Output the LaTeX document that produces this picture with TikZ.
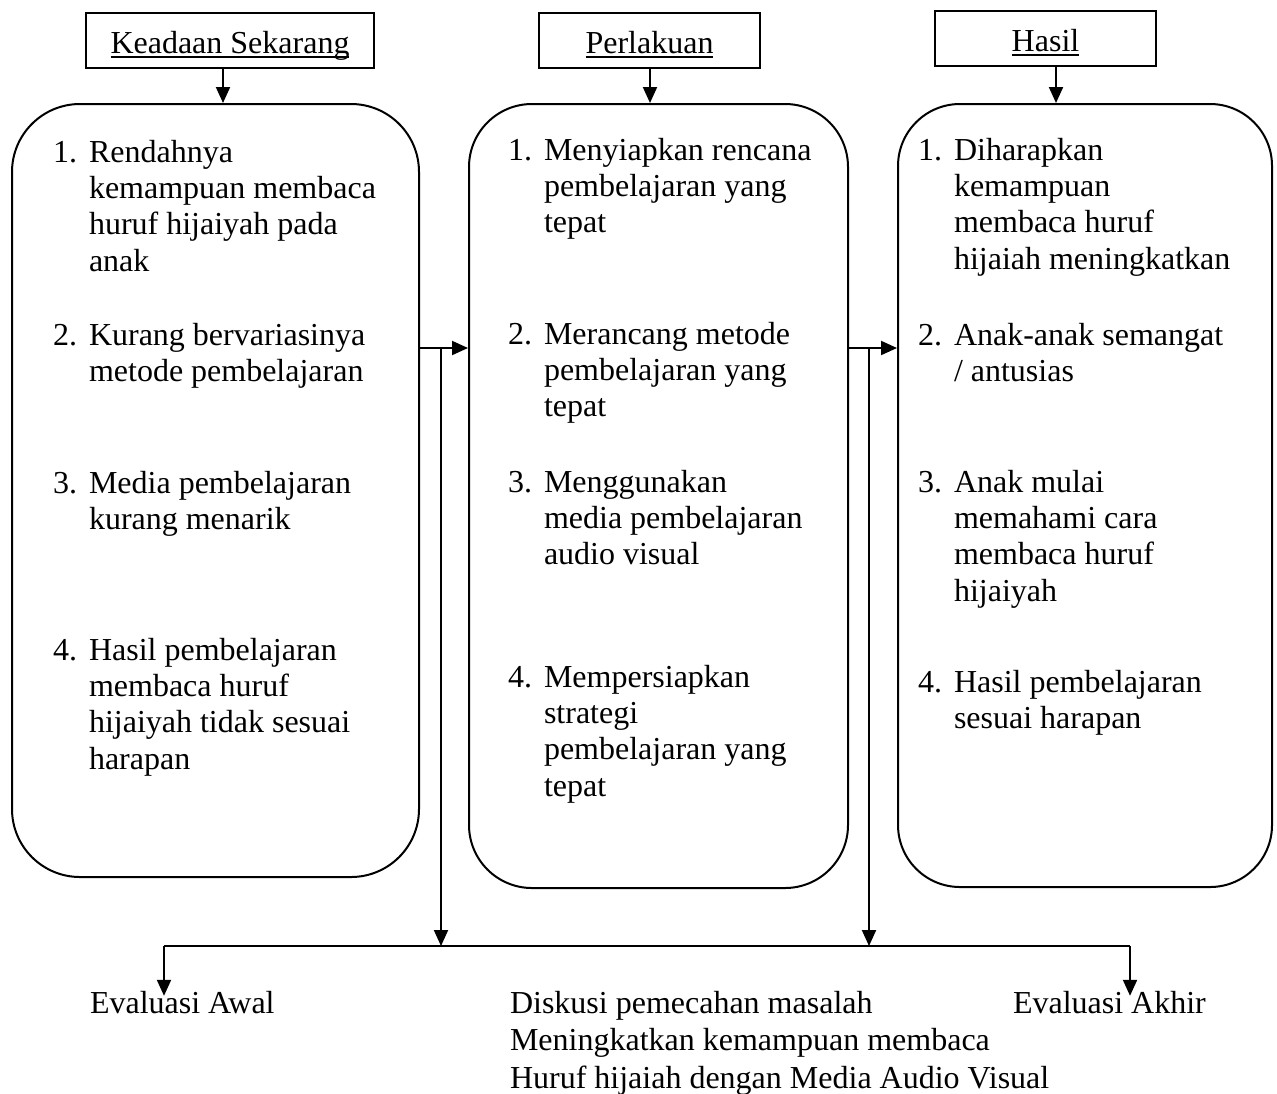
\documentclass[tikz,border=0pt]{standalone}
\usepackage{fontspec}
\setmainfont{Liberation Serif}
\usetikzlibrary{positioning,arrows.meta,calc}
\newcommand{\undertext}[1]{\setbox0\hbox{#1}\rlap{\rule[-2.3pt]{\wd0}{0.7pt}}\box0}
\newcommand{\numbered}[2]{\makebox[18pt][l]{#1.}\parbox[t]{170pt}{#2}}

\begin{document}
\begin{tikzpicture}[x=0.5pt,y=-0.5pt,line width=1pt,
  every node/.style={font=\fontsize{16}{18.2}\selectfont},
  topbox/.style={draw,rectangle,minimum height=27.5pt,text height=14pt,text depth=1.5pt,inner sep=0pt},
  bigbox/.style={draw,rectangle,rounded corners=#1,inner sep=0pt},
  entry/.style={anchor=base west,inner sep=0pt},
  >={Triangle[length=8pt,width=7pt]}
]
\useasboundingbox (0,0) rectangle (1277,1093);

% the headings
\node[topbox,minimum width=144pt] (top1) at (230,40.5) {\undertext{Keadaan Sekarang}};
\node[topbox,minimum width=110.5pt] (top2) at (649.5,40.5) {\undertext{Perlakuan}};
\node[topbox,minimum width=110.5pt] (top3) at (1045.5,38.5) {\undertext{Hasil}};

% the rounded boxes
\node[bigbox=34pt,minimum width=203.5pt,minimum height=386.5pt] (box1) at (215.5,490.5) {};
\node[bigbox=31.5pt,minimum width=189.5pt,minimum height=392pt] (box2) at (658.5,496) {};
\node[bigbox=31pt,minimum width=187pt,minimum height=391.5pt] (box3) at (1085,495.5) {};

% keadaan sekarang
\foreach \i/\y/\txt in {1/162/{Rendahnya\\kemampuan membaca\\huruf hijaiyah pada\\anak},
    2/345/{Kurang bervariasinya\\metode pembelajaran},
    3/493/{Media pembelajaran\\kurang menarik},
    4/660/{Hasil pembelajaran\\membaca huruf\\hijaiyah tidak sesuai\\harapan}}
  \node[entry] (l\i) at (52,\y) {\numbered{\i}{\txt}};

% perlakuan
\foreach \i/\y/\txt in {1/160/{Menyiapkan rencana\\pembelajaran yang\\tepat},
    2/344/{Merancang metode\\pembelajaran yang\\tepat},
    3/492/{Menggunakan\\media pembelajaran\\audio visual},
    4/687/{Mempersiapkan\\strategi\\pembelajaran yang\\tepat}}
  \node[entry] (m\i) at (507,\y) {\numbered{\i}{\txt}};

% hasil
\foreach \i/\y/\txt in {1/160/{Diharapkan\\kemampuan\\membaca huruf\\hijaiah meningkatkan},
    2/345/{Anak-anak semangat\\/ antusias},
    3/492/{Anak mulai\\memahami cara\\membaca huruf\\hijaiyah},
    4/692/{Hasil pembelajaran\\sesuai harapan}}
  \node[entry] (r\i) at (917,\y) {\numbered{\i}{\txt}};

% the evaluations
\node[entry] (awal) at (89,1013) {Evaluasi Awal};
\node[entry,font=\fontsize{16}{18.75}\selectfont] (diskusi) at (509,1013)
  {\begin{tabular}[t]{@{}l@{}}Diskusi pemecahan masalah\\Meningkatkan kemampuan membaca\\Huruf hijaiah dengan Media Audio Visual\end{tabular}};
\node[entry] (akhir) at (1012,1013) {Evaluasi Akhir};

% the edges
\coordinate (j1) at (441,348);
\coordinate (j2) at (869,348);
\coordinate (busL) at (164,946);
\coordinate (busR) at (1130,946);

\draw[->] ([xshift=-3.5pt]top1.south) -- ([xshift=-3.5pt]top1.south |- box1.north);
\draw[->] ([xshift=0.25pt]top2.south) -- ([xshift=0.25pt]top2.south |- box2.north);
\draw[->] ([xshift=5.25pt]top3.south) -- ([xshift=5.25pt]top3.south |- box3.north);
\draw[->] (box1.east |- j1) -- (box2.west |- j1);
\draw[->] (box2.east |- j2) -- (box3.west |- j2);
\draw[->] (j1) -- (j1 |- busL);
\draw[->] (j2) -- (j2 |- busL);
\draw (busL) -- (busR);
\draw[->] (busL) -- ([yshift=-3pt]busL |- awal.north);
\draw[->] (busR) -- ([yshift=-3pt]busR |- akhir.north);
\end{tikzpicture}
\end{document}
